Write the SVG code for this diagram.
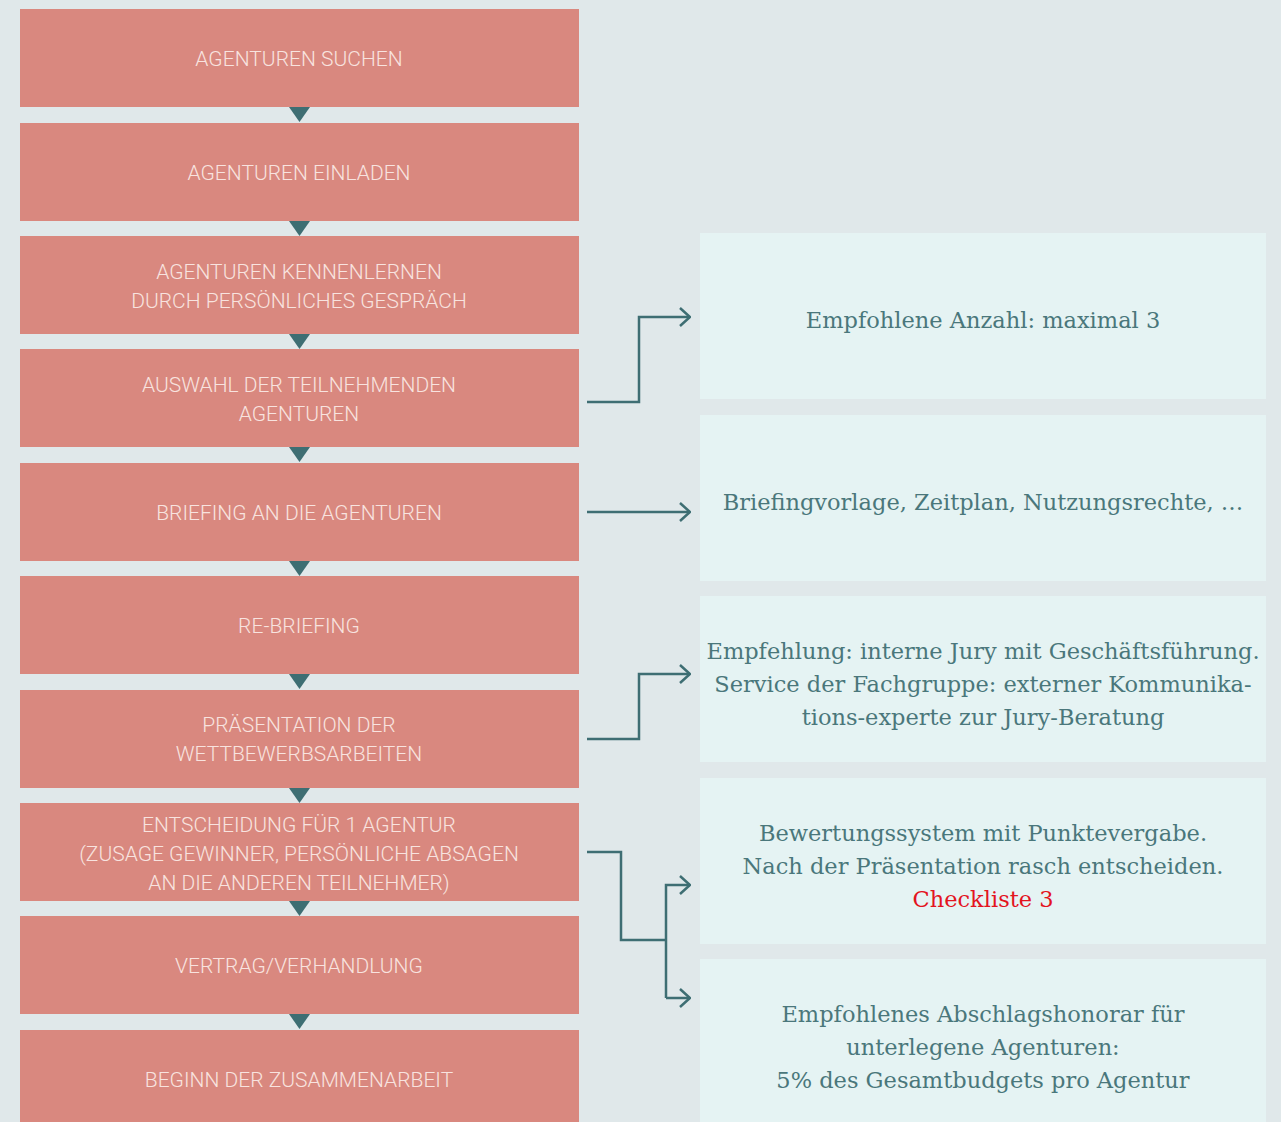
<svg xmlns="http://www.w3.org/2000/svg" width="1281" height="1122" viewBox="0 0 1281 1122">
<defs>
<style>
.step{fill:#d9887f}
.st{font-family:Roboto,"Liberation Sans",sans-serif;font-size:21px;fill:#f8e3df;text-anchor:middle;font-weight:300}
.info{fill:#e5f3f3}
.it{font-family:"DejaVu Serif","Liberation Serif",serif;font-size:22.5px;fill:#4a777b;text-anchor:middle}
.red{fill:#e3141e}
.tri{fill:#3e6e73}
.con{fill:none;stroke:#3e6e73;stroke-width:2.5}
</style>
<marker id="ah" viewBox="0 0 12 20" refX="11" refY="10" markerWidth="12" markerHeight="20" markerUnits="userSpaceOnUse" orient="auto">
<path d="M1,1 L11,10 L1,19" fill="none" stroke="#3e6e73" stroke-width="2.5"/>
</marker>
</defs>
<rect width="1281" height="1122" fill="#e0e8ea"/>
<g id="s1"><rect class="step" x="20" y="9" width="559" height="98"/><text class="st" x="299" y="65.5">AGENTUREN SUCHEN</text></g>
<g id="s2"><rect class="step" x="20" y="123" width="559" height="98"/><text class="st" x="299" y="179.5">AGENTUREN EINLADEN</text></g>
<g id="s3"><rect class="step" x="20" y="236" width="559" height="98"/><text class="st" x="299" y="278.5">AGENTUREN KENNENLERNEN</text><text class="st" x="299" y="307.5">DURCH PERSÖNLICHES GESPRÄCH</text></g>
<g id="s4"><rect class="step" x="20" y="349" width="559" height="98"/><text class="st" x="299" y="391.5">AUSWAHL DER TEILNEHMENDEN</text><text class="st" x="299" y="420.5">AGENTUREN</text></g>
<g id="s5"><rect class="step" x="20" y="463" width="559" height="98"/><text class="st" x="299" y="519.5">BRIEFING AN DIE AGENTUREN</text></g>
<g id="s6"><rect class="step" x="20" y="576" width="559" height="98"/><text class="st" x="299" y="632.5">RE-BRIEFING</text></g>
<g id="s7"><rect class="step" x="20" y="690" width="559" height="98"/><text class="st" x="299" y="731.5">PRÄSENTATION DER</text><text class="st" x="299" y="760.5">WETTBEWERBSARBEITEN</text></g>
<g id="s8"><rect class="step" x="20" y="803" width="559" height="98"/><text class="st" x="299" y="831.5">ENTSCHEIDUNG FÜR 1 AGENTUR</text><text class="st" x="299" y="860.5">(ZUSAGE GEWINNER, PERSÖNLICHE ABSAGEN</text><text class="st" x="299" y="889.5">AN DIE ANDEREN TEILNEHMER)</text></g>
<g id="s9"><rect class="step" x="20" y="916" width="559" height="98"/><text class="st" x="299" y="972.5">VERTRAG/VERHANDLUNG</text></g>
<g id="s10"><rect class="step" x="20" y="1030" width="559" height="98"/><text class="st" x="299" y="1086.5">BEGINN DER ZUSAMMENARBEIT</text></g>
<g id="i1"><rect class="info" x="700" y="233" width="566" height="166"/><text class="it" x="983" y="328">Empfohlene Anzahl: maximal 3</text></g>
<g id="i2"><rect class="info" x="700" y="415" width="566" height="166"/><text class="it" x="983" y="510">Briefingvorlage, Zeitplan, Nutzungsrechte, …</text></g>
<g id="i3"><rect class="info" x="700" y="596" width="566" height="166"/><text class="it" x="983" y="659">Empfehlung: interne Jury mit Geschäftsführung.</text><text class="it" x="983" y="692">Service der Fachgruppe: externer Kommunika-</text><text class="it" x="983" y="725">tions-experte zur Jury-Beratung</text></g>
<g id="i4"><rect class="info" x="700" y="778" width="566" height="166"/><text class="it" x="983" y="841">Bewertungssystem mit Punktevergabe.</text><text class="it" x="983" y="874">Nach der Präsentation rasch entscheiden.</text><text class="it red" x="983" y="907">Checkliste 3</text></g>
<g id="i5"><rect class="info" x="700" y="959" width="566" height="170"/><text class="it" x="983" y="1022">Empfohlenes Abschlagshonorar für</text><text class="it" x="983" y="1055">unterlegene Agenturen:</text><text class="it" x="983" y="1088">5% des Gesamtbudgets pro Agentur</text></g>
<g id="connectors">
<path class="tri" d="M289,107 L310,107 L299.5,122 Z"/>
<path class="tri" d="M289,221 L310,221 L299.5,236 Z"/>
<path class="tri" d="M289,334 L310,334 L299.5,349 Z"/>
<path class="tri" d="M289,447 L310,447 L299.5,462 Z"/>
<path class="tri" d="M289,561 L310,561 L299.5,576 Z"/>
<path class="tri" d="M289,674 L310,674 L299.5,689 Z"/>
<path class="tri" d="M289,788 L310,788 L299.5,803 Z"/>
<path class="tri" d="M289,901 L310,901 L299.5,916 Z"/>
<path class="tri" d="M289,1014 L310,1014 L299.5,1029 Z"/>
<path class="con" d="M587,402 H639 V317 H690" marker-end="url(#ah)"/>
<path class="con" d="M587,512 H690" marker-end="url(#ah)"/>
<path class="con" d="M587,739 H639 V674 H690" marker-end="url(#ah)"/>
<path class="con" d="M587,852 H621 V940 H666"/>
<path class="con" d="M690,885 H666 V998"/>
<path class="con" d="M688,885 H690" marker-end="url(#ah)"/>
<path class="con" d="M666,998 H690" marker-end="url(#ah)"/>
</g>
</svg>
